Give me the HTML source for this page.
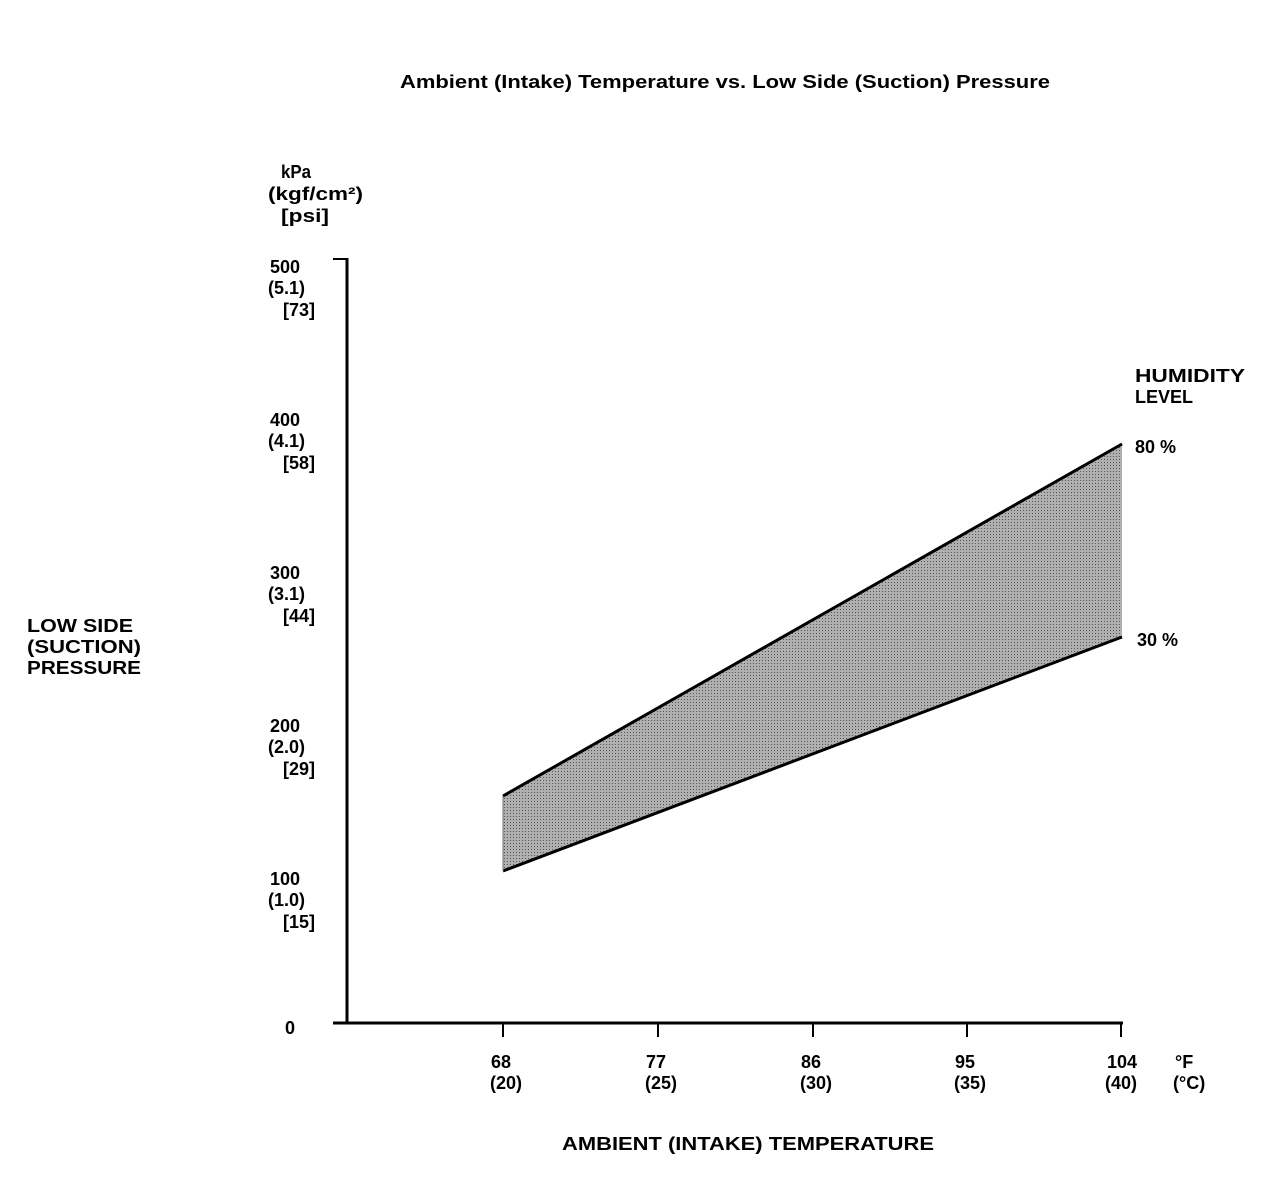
<!DOCTYPE html>
<html><head><style>
html,body{margin:0;padding:0;background:#fff;}
svg text{font-family:"Liberation Sans",Arial,sans-serif;font-weight:bold;font-size:18px;fill:#000;}
</style></head><body>
<svg width="1264" height="1184" viewBox="0 0 1264 1184" xmlns="http://www.w3.org/2000/svg">
<defs>
<pattern id="dots" width="3" height="3" patternUnits="userSpaceOnUse">
<rect width="3" height="3" fill="#b0b0b0"/>
<rect width="1" height="1" fill="#555"/>
</pattern>
</defs>
<text x="725" y="88" text-anchor="middle" textLength="650" lengthAdjust="spacingAndGlyphs">Ambient (Intake) Temperature vs. Low Side (Suction) Pressure</text>
<text x="281" y="178" textLength="30" lengthAdjust="spacingAndGlyphs">kPa</text>
<text x="268" y="200" textLength="95" lengthAdjust="spacingAndGlyphs">(kgf/cm²)</text>
<text x="281" y="222" textLength="48" lengthAdjust="spacingAndGlyphs">[psi]</text>
<g>
<text x="270" y="273">500</text><text x="268" y="294">(5.1)</text><text x="283" y="316">[73]</text>
<text x="270" y="426">400</text><text x="268" y="447">(4.1)</text><text x="283" y="469">[58]</text>
<text x="270" y="579">300</text><text x="268" y="600">(3.1)</text><text x="283" y="622">[44]</text>
<text x="270" y="732">200</text><text x="268" y="753">(2.0)</text><text x="283" y="775">[29]</text>
<text x="270" y="885">100</text><text x="268" y="906">(1.0)</text><text x="283" y="928">[15]</text>
<text x="285" y="1034">0</text>
</g>
<text x="27" y="632" textLength="106" lengthAdjust="spacingAndGlyphs">LOW SIDE</text>
<text x="27" y="653" textLength="114" lengthAdjust="spacingAndGlyphs">(SUCTION)</text>
<text x="27" y="674" textLength="114" lengthAdjust="spacingAndGlyphs">PRESSURE</text>
<polygon points="503,796 1122,444 1122,637 503,871" fill="url(#dots)"/>
<line x1="503" y1="796" x2="1122" y2="444" stroke="#000" stroke-width="3"/>
<line x1="503" y1="871" x2="1122" y2="637" stroke="#000" stroke-width="3"/>
<line x1="503" y1="796" x2="503" y2="871" stroke="#777" stroke-width="1"/>
<line x1="347" y1="258" x2="347" y2="1024" stroke="#000" stroke-width="3"/>
<line x1="333" y1="259" x2="347" y2="259" stroke="#000" stroke-width="2"/>
<line x1="333" y1="1023" x2="1123" y2="1023" stroke="#000" stroke-width="3"/>
<g stroke="#000" stroke-width="2">
<line x1="503" y1="1023" x2="503" y2="1037"/>
<line x1="658" y1="1023" x2="658" y2="1037"/>
<line x1="813" y1="1023" x2="813" y2="1037"/>
<line x1="967" y1="1023" x2="967" y2="1037"/>
<line x1="1121" y1="1023" x2="1121" y2="1037"/>
</g>
<text x="491" y="1068">68</text><text x="490" y="1089">(20)</text>
<text x="646" y="1068">77</text><text x="645" y="1089">(25)</text>
<text x="801" y="1068">86</text><text x="800" y="1089">(30)</text>
<text x="955" y="1068">95</text><text x="954" y="1089">(35)</text>
<text x="1107" y="1068">104</text><text x="1105" y="1089">(40)</text>
<text x="1175" y="1068">°F</text><text x="1173" y="1089">(°C)</text>
<text x="1135" y="382" textLength="110" lengthAdjust="spacingAndGlyphs">HUMIDITY</text>
<text x="1135" y="403">LEVEL</text>
<text x="1135" y="453">80 %</text>
<text x="1137" y="646">30 %</text>
<text x="748" y="1150" text-anchor="middle" textLength="372" lengthAdjust="spacingAndGlyphs">AMBIENT (INTAKE) TEMPERATURE</text>
</svg>
</body></html>
